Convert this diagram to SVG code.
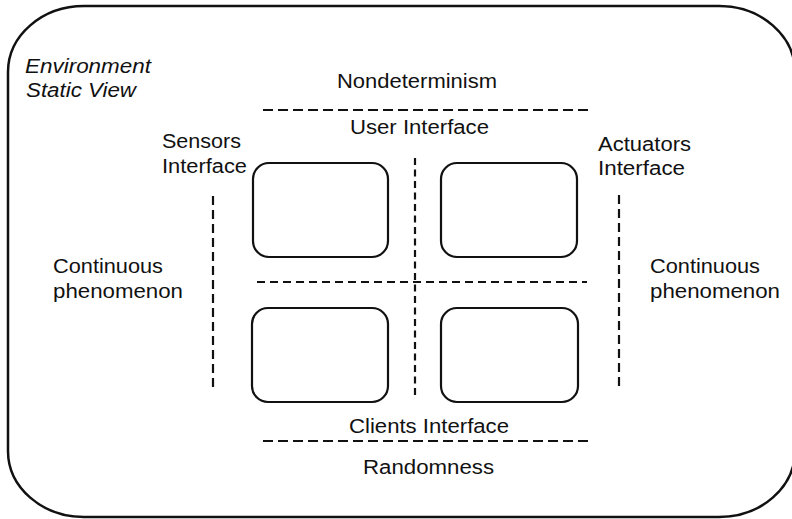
<svg xmlns="http://www.w3.org/2000/svg" width="792" height="519" viewBox="0 0 792 519">
<style>
  .bg { fill: #ffffff; }
  .outer { fill: none; stroke: #111; stroke-width: 2.5; }
  .box { fill: none; stroke: #111; stroke-width: 2.2; }
  .dash { fill: none; stroke: #111; stroke-width: 2.2; }
  .dl { stroke-dasharray: 10 5; }
  .dm { stroke-dasharray: 8 5; }
  .dv { stroke-dasharray: 7 4.5; }
  .ds { stroke-dasharray: 9 5; }
  text { font-family: "Liberation Sans", Arial, sans-serif; font-size: 20px; fill: #111; }
  .it { font-style: italic; }
</style>
<rect class="bg" x="0" y="0" width="792" height="519"/>
<g id="environment">
  <rect class="outer" x="8" y="6" width="787" height="511" rx="76" ry="66"/>
  <text class="it" x="25" y="73" textLength="126" lengthAdjust="spacingAndGlyphs">Environment</text>
  <text class="it" x="26" y="97" textLength="110" lengthAdjust="spacingAndGlyphs">Static View</text>
</g>
<g id="connectors">
  <line class="dash dl" x1="263" y1="110" x2="591" y2="110"/>
  <line class="dash dm" x1="257" y1="282" x2="587" y2="282"/>
  <line class="dash dl" x1="263" y1="441" x2="591" y2="441"/>
  <line class="dash dv" x1="415" y1="158" x2="415" y2="397"/>
  <line class="dash ds" x1="213" y1="196" x2="213" y2="387"/>
  <line class="dash ds" x1="619" y1="195" x2="619" y2="387"/>
</g>
<g id="box-top-left"><rect class="box" x="253" y="163" width="135" height="94" rx="16"/></g>
<g id="box-top-right"><rect class="box" x="441" y="163" width="136" height="94" rx="16"/></g>
<g id="box-bottom-left"><rect class="box" x="252" y="308" width="136" height="94" rx="16"/></g>
<g id="box-bottom-right"><rect class="box" x="441" y="308" width="137" height="94" rx="16"/></g>
<g id="labels">
  <text x="337" y="88" textLength="160" lengthAdjust="spacingAndGlyphs">Nondeterminism</text>
  <text x="350" y="134" textLength="139" lengthAdjust="spacingAndGlyphs">User Interface</text>
  <text x="162" y="148" textLength="79" lengthAdjust="spacingAndGlyphs">Sensors</text>
  <text x="162" y="173" textLength="85" lengthAdjust="spacingAndGlyphs">Interface</text>
  <text x="598" y="151" textLength="93" lengthAdjust="spacingAndGlyphs">Actuators</text>
  <text x="598" y="175" textLength="87" lengthAdjust="spacingAndGlyphs">Interface</text>
  <text x="53" y="273" textLength="110" lengthAdjust="spacingAndGlyphs">Continuous</text>
  <text x="53" y="298" textLength="130" lengthAdjust="spacingAndGlyphs">phenomenon</text>
  <text x="650" y="273" textLength="110" lengthAdjust="spacingAndGlyphs">Continuous</text>
  <text x="650" y="298" textLength="130" lengthAdjust="spacingAndGlyphs">phenomenon</text>
  <text x="349" y="433" textLength="160" lengthAdjust="spacingAndGlyphs">Clients Interface</text>
  <text x="363" y="474" textLength="131" lengthAdjust="spacingAndGlyphs">Randomness</text>
</g>
</svg>
